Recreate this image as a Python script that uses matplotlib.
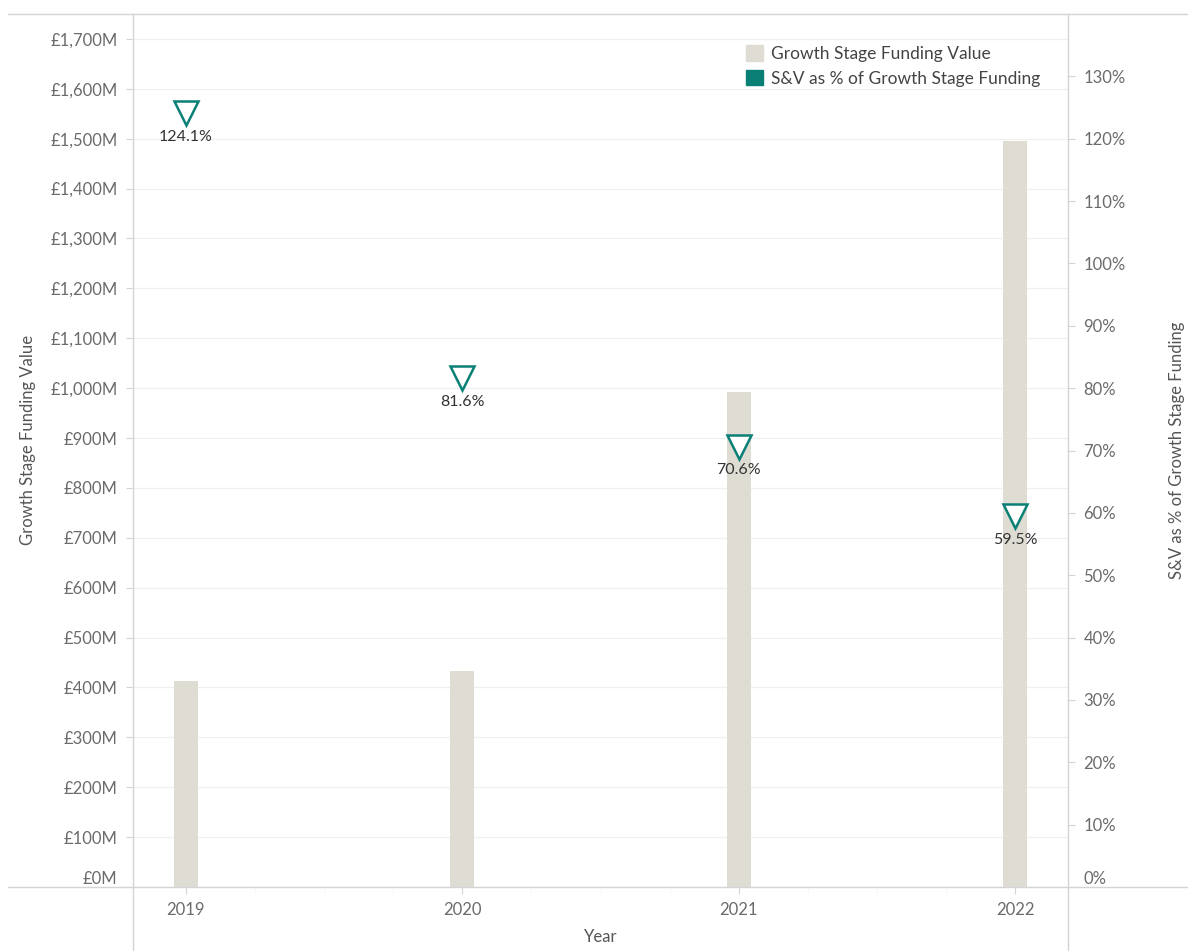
import numpy as np
import matplotlib.pyplot as plt
from matplotlib.lines import Line2D
from matplotlib.patches import Patch
from matplotlib.ticker import FuncFormatter, MultipleLocator

years = ['2019', '2020', '2021', '2022']
funding_m = [413, 433, 992, 1496]          # £M
sv_pct = [124.1, 81.6, 70.6, 59.5]         # %
pct_labels = ['124.1%', '81.6%', '70.6%', '59.5%']

bar_col = '#dfdcd4'
teal = '#0a7f75'
tick_col = '#6b6b6b'
grid_col = '#f0f0f0'
line_col = '#d4d4d4'

plt.rcParams['font.family'] = ['Lato', 'DejaVu Sans']

fig = plt.figure(figsize=(11.88, 9.51), dpi=100)
ax = fig.add_axes([133 / 1188, 64 / 951, 935 / 1188, 873 / 951])
ax2 = ax.twinx()

x = np.arange(len(years))
ax.bar(x, funding_m, width=0.087, color=bar_col, zorder=2)
ax.set_xlim(-0.19, 3.19)
ax.set_ylim(0, 1750)
ax.set_yticks(np.arange(0, 1800, 100))
ax.yaxis.set_major_formatter(FuncFormatter(lambda v, p: '£{:,.0f}M'.format(v)))
ax.grid(axis='y', color=grid_col, lw=1, zorder=0)
ax.set_axisbelow(True)
ax.set_xticks(x)
ax.set_xticklabels(years)
ax.xaxis.set_minor_locator(MultipleLocator(0.25))

ax2.set_ylim(0, 140)
ax2.set_yticks(np.arange(0, 131, 10))
ax2.yaxis.set_major_formatter(FuncFormatter(lambda v, p: '{:.0f}%'.format(v)))
ax2.plot(x, sv_pct, linestyle='none', marker='v', markersize=17,
         markerfacecolor='white', markeredgecolor=teal, markeredgewidth=1.8, zorder=5)
for xi, v, lab in zip(x, sv_pct, pct_labels):
    ax2.annotate(lab, (xi, v), xytext=(0, -17), textcoords='offset points',
                 ha='center', va='center', fontsize=11.5, color='#333333')

for a in (ax, ax2):
    for s in a.spines.values():
        s.set_visible(False)
    a.tick_params(axis='both', colors=line_col, labelcolor=tick_col, labelsize=12, length=5)
ax.tick_params(axis='x', which='minor', colors='#f5f5f5', length=4)
ax.tick_params(axis='x', pad=6)
ax2.tick_params(axis='y', pad=6)
ax.tick_params(axis='y', pad=6)

# lowest labels sit above the baseline
ax.get_yticklabels()[0].set_va('bottom')
ax2.get_yticklabels()[0].set_va('bottom')

ax.set_xlabel('Year', fontsize=12, color='#555555', labelpad=8)
fig.text(28 / 1188, 1 - 440 / 951, 'Growth Stage Funding Value', rotation=90,
         ha='center', va='center', fontsize=12, color='#555555')
fig.text(1177 / 1188, 1 - 450 / 951, 'S&V as % of Growth Stage Funding', rotation=90,
         ha='center', va='center', fontsize=12, color='#555555')

handles = [Patch(facecolor=bar_col, edgecolor=bar_col, label='Growth Stage Funding Value'),
           Patch(facecolor=teal, edgecolor=teal, label='S&V as % of Growth Stage Funding')]
ax2.legend(handles=handles, loc='upper left', bbox_to_anchor=(0.648, 0.972), frameon=False,
           fontsize=12.5, labelcolor='#444444', handlelength=1.0, handleheight=1.0,
           handletextpad=0.45, labelspacing=0.45, borderaxespad=0)

# frame lines around the view
W, H = 1188, 951
for (x0, y0, x1, y1) in [(8, 14, 1188, 14), (8, 887, 1188, 887),
                         (133, 14, 133, 951), (1068, 14, 1068, 951)]:
    fig.add_artist(Line2D([x0 / W, x1 / W], [1 - y0 / H, 1 - y1 / H],
                          color=line_col, lw=1, transform=fig.transFigure))

fig.savefig('out.png', dpi=100)
